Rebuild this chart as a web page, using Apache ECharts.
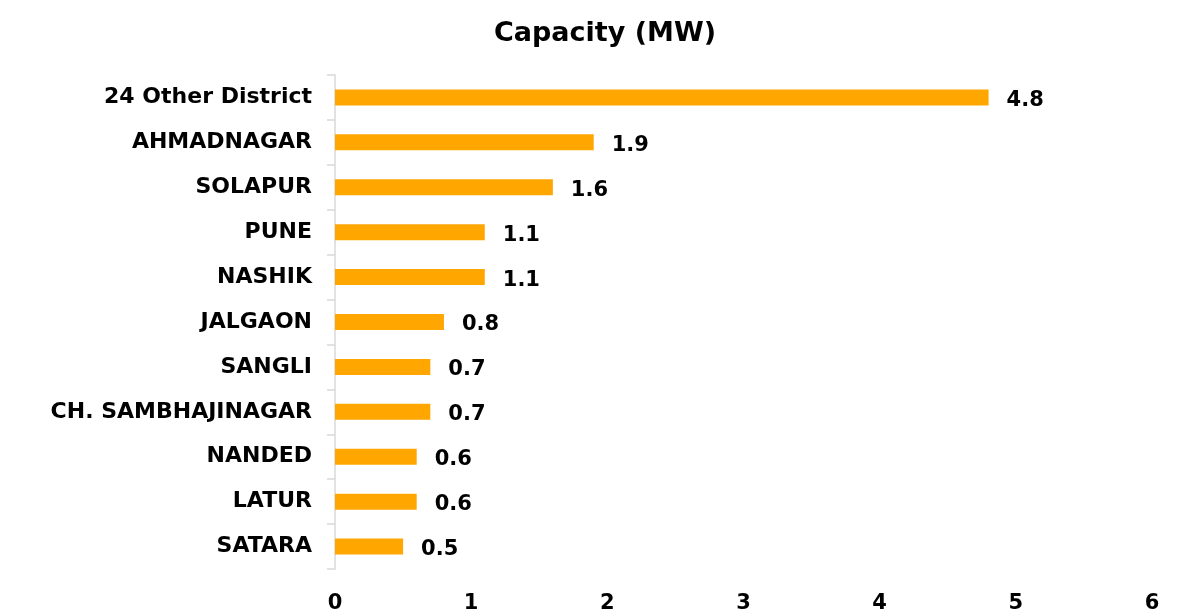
<!DOCTYPE html>
<html>
<head>
<meta charset="utf-8">
<script src="https://cdn.jsdelivr.net/npm/echarts@6/dist/echarts.min.js"></script>
<style>
    html, body { margin: 0; padding: 0; background: #fff; }
    #chart { width: 1179px; height: 614px; }
</style>
</head>
<body>
<div id="chart"></div>
<script>
// districts, top to bottom
const districts = [
    '24 Other District',
    'AHMADNAGAR',
    'SOLAPUR',
    'PUNE',
    'NASHIK',
    'JALGAON',
    'SANGLI',
    'CH. SAMBHAJINAGAR',
    'NANDED',
    'LATUR',
    'SATARA',
];
const capacity = [4.8, 1.9, 1.6, 1.1, 1.1, 0.8, 0.7, 0.7, 0.6, 0.6, 0.5];
const xTicks = [0, 1, 2, 3, 4, 5, 6];

// text in the source is wide, DejaVu bold gets closer than Arial
const font = "'DejaVu Sans', 'Liberation Sans', Arial, sans-serif";
const chart = echarts.init(document.getElementById('chart'));

const option = {
    animation: false,
    backgroundColor: '#fff',
    title: {
        text: 'Capacity (MW)',
        left: 600,
        top: 15,
        textAlign: 'center',
        textStyle: { fontFamily: font, fontSize: 27, fontWeight: 'bold', color: '#000' },
    },
    grid: { left: 335, right: 27, top: 75, bottom: 43, containLabel: false },
    xAxis: {
        type: 'value',
        min: xTicks[0],
        max: xTicks[xTicks.length - 1],
        interval: 1,
        axisLine: { show: false },
        axisTick: { show: false },
        splitLine: { show: false },
        axisLabel: {
            margin: 24,
            fontFamily: font,
            fontSize: 21,
            fontWeight: 'bold',
            color: '#000',
        },
    },
    yAxis: {
        type: 'category',
        data: districts,
        inverse: true,
        axisLine: { show: true, lineStyle: { color: '#d9d9d9', width: 1.5 } },
        axisTick: { show: true, length: 8, lineStyle: { color: '#d9d9d9', width: 1.5 } },
        axisLabel: {
            margin: 23,
            fontFamily: font,
            fontSize: 22,
            fontWeight: 'bold',
            color: '#000',
        },
    },
    series: [
        {
            type: 'bar',
            data: capacity,
            barWidth: 16,
            itemStyle: { color: '#ffa600' },
            label: {
                show: true,
                position: 'right',
                distance: 18,
                offset: [0, 3],
                fontFamily: font,
                fontSize: 21,
                fontWeight: 'bold',
                color: '#000',
            },
        },
    ],
};
chart.setOption(option);
</script>
</body>
</html>
